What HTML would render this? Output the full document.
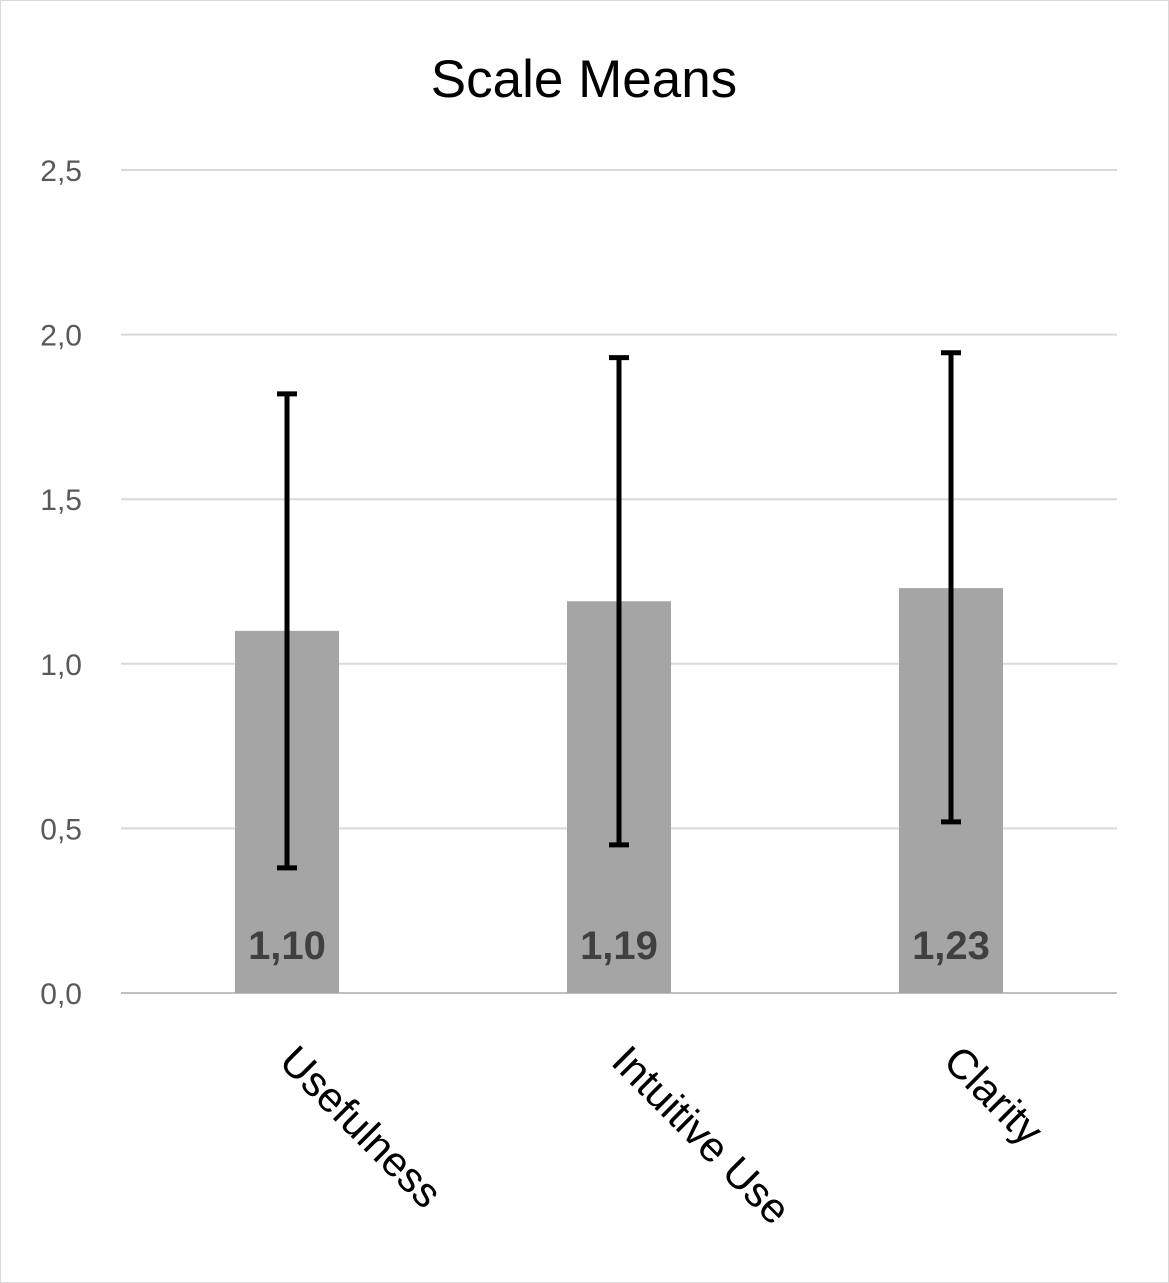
<!DOCTYPE html>
<html><head><meta charset="utf-8"><style>
html,body{margin:0;padding:0;background:#fff}
svg{display:block;font-family:"Liberation Sans","DejaVu Sans",sans-serif}
</style></head><body>
<svg id="chart" width="1169" height="1283" viewBox="0 0 1169 1283">
<rect x="0.5" y="0.5" width="1168" height="1282" fill="#fff" stroke="#d9d9d9"/>
<text x="584" y="97" text-anchor="middle" font-size="53" fill="#000">Scale Means</text>
<g id="grid"></g><g id="bars"></g><g id="errs"></g><g id="labels"></g>
</svg>
<script>
const categories = ["Usefulness", "Intuitive Use", "Clarity"];
const means = [1.10, 1.19, 1.23];
const valueLabels = ["1,10", "1,19", "1,23"];
const errLow = [0.38, 0.45, 0.52];
const errHigh = [1.82, 1.93, 1.945];
const ticks = [0, 0.5, 1, 1.5, 2, 2.5];
const tickLabels = ["0,0", "0,5", "1,0", "1,5", "2,0", "2,5"];

const NS = "http://www.w3.org/2000/svg";
const x0 = 121, x1 = 1117, y0 = 993, yTop = 170, yMax = 2.5;
const yScale = v => y0 - (v / yMax) * (y0 - yTop);
const band = (x1 - x0) / categories.length;
const xCenter = i => x0 + band * (i + 0.5);
const barW = 104;
function mk(tag, attrs, parent) {
  const e = document.createElementNS(NS, tag);
  for (const k in attrs) e.setAttribute(k, attrs[k]);
  parent.appendChild(e);
  return e;
}
const grid = document.getElementById("grid");
ticks.forEach((t, i) => {
  const y = yScale(t);
  const l = mk("line", {x1: x0, x2: x1, y1: y, y2: y, stroke: i === 0 ? "#bfbfbf" : "#d9d9d9", "stroke-width": 2}, grid);
  
  
  const tx = mk("text", {x: 82, y: y + 11, "text-anchor": "end", "font-size": 30, fill: "#595959"}, grid);
  tx.textContent = tickLabels[i];
  
  
});
const bars = document.getElementById("bars"), errs = document.getElementById("errs"), labels = document.getElementById("labels");
categories.forEach((c, i) => {
  const cx = xCenter(i);
  const r = mk("rect", {x: cx - barW / 2, y: yScale(means[i]), width: barW, height: y0 - yScale(means[i]), fill: "#a5a5a5"}, bars);
  
  
  const v = mk("text", {x: cx, y: 959, "text-anchor": "middle", "font-size": 40, "font-weight": "bold", fill: "#404040"}, bars);
  v.textContent = valueLabels[i];
  
  
  const yl = yScale(errLow[i]), yh = yScale(errHigh[i]);
  const g = mk("g", {stroke: "#000", "stroke-width": 5}, errs);
  
  
  mk("line", {x1: cx, x2: cx, y1: yh, y2: yl}, g);
  mk("line", {x1: cx - 10, x2: cx + 10, y1: yh, y2: yh}, g);
  mk("line", {x1: cx - 10, x2: cx + 10, y1: yl, y2: yl}, g);
  const lx = cx + 12, ly = 1042;
  const t = mk("text", {x: lx, y: ly, "font-size": 42, fill: "#000", transform: `rotate(45 ${lx} ${ly})`, "dominant-baseline": "hanging"}, labels);
  t.textContent = c;
  
  
});
</script>
</body></html>
